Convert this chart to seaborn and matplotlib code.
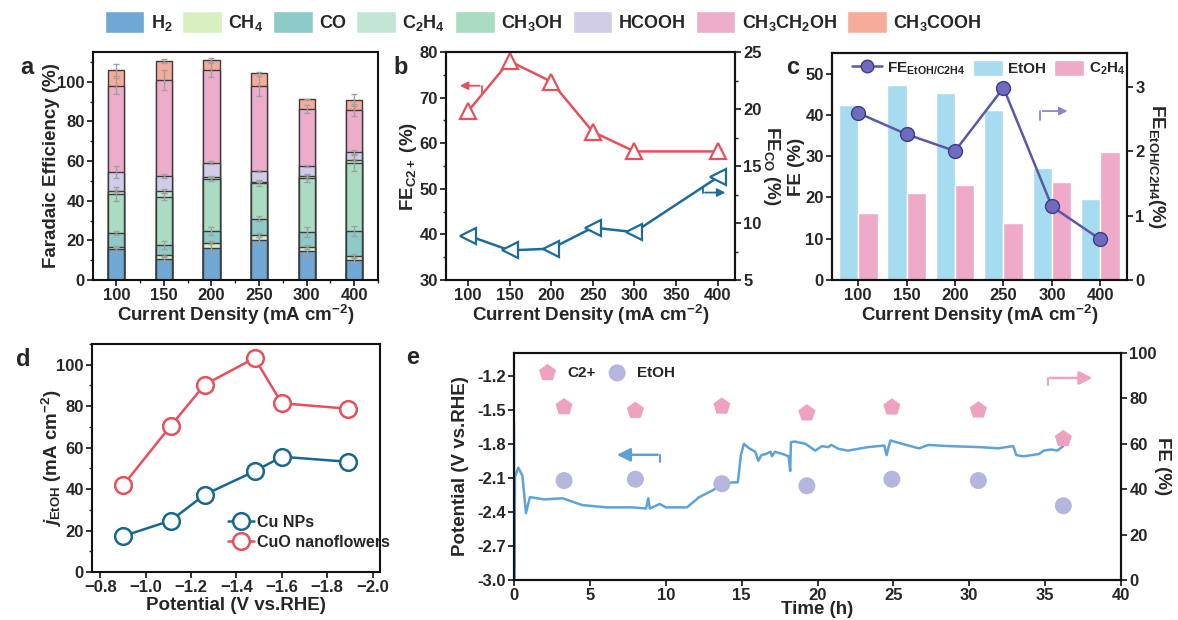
import matplotlib
matplotlib.use('Agg')
import matplotlib.pyplot as plt
import seaborn as sns
import numpy as np
import pandas as pd
from matplotlib import font_manager as fm
from matplotlib.patches import Patch
from matplotlib.lines import Line2D
from matplotlib.ticker import MultipleLocator, FormatStrFormatter, FuncFormatter

# ---------------- data ----------------
current_cats = ['100', '150', '200', '250', '300', '400']
current_num = [100, 150, 200, 250, 300, 400]

# panel a (stack order bottom -> top as drawn)
fe_h2 = [15.5, 10.6, 16.1, 20.1, 14.4, 10.3]
fe_ch4 = [1.0, 1.8, 2.5, 2.7, 2.2, 1.7]
fe_co = [7.0, 5.4, 6.2, 8.1, 7.4, 12.5]
fe_ch3oh = [20.0, 24.3, 26.2, 17.9, 27.5, 34.4]
fe_c2h4 = [1.3, 2.7, 1.2, 0.7, 1.0, 1.4]
fe_hcooh = [9.5, 7.6, 6.9, 5.7, 5.1, 4.4]
fe_etoh = [43.6, 48.5, 46.8, 42.6, 28.6, 21.0]
fe_acooh = [8.1, 9.8, 5.1, 6.8, 5.0, 5.0]
err_h2 = [1.5, 1.0, 3.5, 1.5, 3.0, 1.5]
err_ch4 = [0.3, 0.5, 0.5, 1.0, 1.0, 1.0]
err_co = [1.0, 2.0, 2.0, 1.2, 2.5, 2.5]
err_ch3oh = [3.5, 2.0, 1.0, 1.5, 2.0, 4.0]
err_c2h4 = [0.5, 1.0, 0.5, 0.3, 0.5, 0.5]
err_hcooh = [3.0, 1.0, 0.7, 0.5, 0.5, 1.0]
err_etoh = [4.0, 5.0, 3.5, 5.0, 2.0, 3.0]
err_acooh = [3.0, 1.0, 1.0, 0.5, 0.3, 3.0]

# panel b
fe_c2plus = [67.0, 78.0, 73.5, 62.5, 58.2, 58.2]
fe_co_b = [8.9, 7.6, 7.75, 9.6, 9.2, 14.0]

# panel c
fe_etoh_c = [42.3, 47.2, 45.3, 41.3, 27.1, 19.6]
fe_c2h4_c = [16.3, 21.1, 22.9, 13.9, 23.7, 31.1]
ratio_etoh_c2h4 = [2.59, 2.26, 2.00, 2.98, 1.14, 0.63]

# panel d
potential_d = [-0.90, -1.11, -1.26, -1.48, -1.60, -1.89]
j_cu_nps = [17.3, 24.8, 37.3, 48.6, 55.6, 53.2]
j_cuo_nf = [41.8, 70.5, 90.4, 103.2, 81.4, 78.8]

# panel e
time_h = [0.0, 0.01, 0.07, 0.28, 0.55, 0.79, 1.05, 2.0, 3.2, 4.5, 6.1, 7.8, 8.7,
          8.85, 8.95, 9.6, 10.0, 11.4, 12.2, 13.1, 13.6, 14.4, 14.75, 14.95, 15.15,
          15.5, 15.9, 16.1, 16.3, 16.6, 16.9, 17.0, 17.2, 17.7, 18.1, 18.2, 18.25,
          18.5, 19.2, 19.85, 20.3, 20.7, 20.9, 21.4, 22.0, 23.3, 24.4, 24.55, 24.8,
          25.3, 26.4, 26.7, 27.3, 28.6, 30.8, 31.9, 32.9, 33.1, 33.6, 34.6, 34.9,
          35.4, 35.8, 36.2]
potential_e = [-1.62, -3.0, -2.09, -2.01, -2.08, -2.41, -2.27, -2.29, -2.28, -2.34,
               -2.36, -2.36, -2.37, -2.28, -2.37, -2.33, -2.36, -2.36, -2.27, -2.21,
               -2.16, -2.14, -2.14, -1.90, -1.80, -1.84, -1.87, -1.95, -1.90, -1.89,
               -1.87, -1.91, -1.87, -1.89, -1.91, -2.04, -1.785, -1.78, -1.80, -1.86,
               -1.82, -1.83, -1.81, -1.845, -1.86, -1.83, -1.815, -1.90, -1.77, -1.79,
               -1.83, -1.84, -1.81, -1.82, -1.83, -1.84, -1.82, -1.90, -1.91, -1.89,
               -1.86, -1.85, -1.86, -1.82]
sample_time = [3.3, 8.0, 13.7, 19.3, 24.9, 30.6, 36.2]
fe_c2plus_e = [76.2, 74.6, 76.5, 73.5, 76.1, 74.8, 62.2]
fe_etoh_e = [43.8, 44.4, 42.4, 41.5, 44.4, 43.8, 32.7]

# ---------------- style ----------------
sns.set_theme(style='ticks')
avail = {f.name for f in fm.fontManager.ttflist}
FAM = 'Liberation Sans Narrow' if 'Liberation Sans Narrow' in avail else 'Liberation Sans'
plt.rcParams['font.family'] = [FAM, 'DejaVu Sans']
plt.rcParams['font.weight'] = 'bold'
plt.rcParams['axes.labelweight'] = 'bold'
plt.rcParams['mathtext.fontset'] = 'custom'
plt.rcParams['mathtext.rm'] = FAM + ':bold'
plt.rcParams['mathtext.bf'] = FAM + ':bold'
plt.rcParams['mathtext.it'] = FAM + ':italic:bold'
plt.rcParams['mathtext.default'] = 'bf'
plt.rcParams['axes.linewidth'] = 1.5
plt.rcParams['xtick.major.width'] = 1.3
plt.rcParams['ytick.major.width'] = 1.3
plt.rcParams['xtick.minor.width'] = 1.0
plt.rcParams['ytick.minor.width'] = 1.0
plt.rcParams['xtick.major.size'] = 4
plt.rcParams['ytick.major.size'] = 4
plt.rcParams['xtick.minor.size'] = 2.5
plt.rcParams['ytick.minor.size'] = 2.5
plt.rcParams['axes.edgecolor'] = '#111111'

TICK = 12
LAB = 13.5

W, H = 1178, 620
fig = plt.figure(figsize=(W / 100, H / 100), dpi=100)


def rect(l, t, r, b):
    return [l / W, (H - b) / H, (r - l) / W, (b - t) / H]


def style_ax(ax):
    ax.tick_params(labelsize=TICK, pad=2)
    for lab in ax.get_xticklabels() + ax.get_yticklabels():
        lab.set_fontweight('bold')


def place_labels(ax, xl=None, yl=None, ax2=None, yr=None):
    if xl is not None:
        ax.xaxis.label.set_va('center')
        ax.xaxis.set_label_coords(0.5, xl)
    if yl is not None:
        ax.yaxis.label.set_va('center')
        ax.yaxis.set_label_coords(yl, 0.5)
    if ax2 is not None:
        ax2.yaxis.label.set_va('center')
        ax2.yaxis.set_label_coords(yr, 0.5)


# ---------------- panel a ----------------
axa = fig.add_axes(rect(93, 52, 378, 280))
c_h2, c_ch4, c_co, c_c2h4, c_ch3oh, c_hcooh, c_etoh, c_acooh = (
    '#6fa7d5', '#d8efbf', '#8ccbc8', '#c2e5d6', '#a9dcc2', '#d1cce8', '#eeaccb', '#f6ab9b')
layers = [(fe_h2, err_h2, c_h2), (fe_ch4, err_ch4, c_ch4), (fe_co, err_co, c_co),
          (fe_ch3oh, err_ch3oh, c_ch3oh), (fe_c2h4, err_c2h4, c_c2h4),
          (fe_hcooh, err_hcooh, c_hcooh), (fe_etoh, err_etoh, c_etoh),
          (fe_acooh, err_acooh, c_acooh)]
cums = np.cumsum([np.array(v) for v, _, _ in layers], axis=0)
for (vals, err, col), cum in reversed(list(zip(layers, cums))):
    sns.barplot(x=current_cats, y=cum, color=col, saturation=1, width=0.34,
                edgecolor='#3c3c3c', linewidth=1.0, errorbar=None, ax=axa)
for (vals, err, col), cum in zip(layers, cums):
    axa.errorbar(np.arange(6), cum, yerr=err, fmt='none', ecolor='#a0a0a0',
                 elinewidth=1.0, capsize=2.5, capthick=1.0, zorder=5)
axa.set_xlim(-0.49, 5.37)
axa.set_ylim(0, 115)
axa.yaxis.set_major_locator(MultipleLocator(20))
axa.yaxis.set_minor_locator(MultipleLocator(10))
axa.set_xticks(np.arange(6))
axa.set_xticks(np.arange(6) + 0.5, minor=True)
axa.set_xlabel('Current Density (mA cm$^{-2}$)', fontsize=LAB)
axa.set_ylabel('Faradaic Efficiency (%)', fontsize=LAB)
place_labels(axa, xl=-0.152, yl=-0.147)
style_ax(axa)

# ---------------- panel b ----------------
red = '#e5505c'
blue_b = '#1b6c98'
axb = fig.add_axes(rect(446, 52, 735, 280))
sns.lineplot(x=current_num, y=fe_c2plus, ax=axb, color=red, linewidth=1.8,
             marker='^', markersize=12, markerfacecolor='white',
             markeredgecolor=red, markeredgewidth=1.6)
axb.set_xlim(73.5, 421)
axb.set_ylim(30, 80)
axb.xaxis.set_major_locator(MultipleLocator(50))
axb.yaxis.set_major_locator(MultipleLocator(10))
axb.yaxis.set_minor_locator(MultipleLocator(5))
axb.set_xlabel('Current Density (mA cm$^{-2}$)', fontsize=LAB)
axb.set_ylabel('FE$_{\\mathregular{C2+}}$ (%)', fontsize=LAB)
axb2 = axb.twinx()
sns.lineplot(x=current_num, y=fe_co_b, ax=axb2, color=blue_b, linewidth=1.8,
             marker='<', markersize=12, markerfacecolor='white',
             markeredgecolor=blue_b, markeredgewidth=1.6)
axb2.set_ylim(5, 25)
axb2.yaxis.set_major_locator(MultipleLocator(5))
axb2.yaxis.set_minor_locator(MultipleLocator(2.5))
axb2.set_ylabel('FE$_{\\mathregular{CO}}$ (%)', fontsize=LAB, rotation=270)
place_labels(axb, xl=-0.152, yl=-0.13, ax2=axb2, yr=1.125)
style_ax(axb)
style_ax(axb2)
# elbow arrows
axb.plot([116.8, 116.8], [71.0, 72.6], color=red, lw=1.3)
axb.annotate('', xy=(86.8, 72.6), xytext=(117.3, 72.6),
             arrowprops=dict(arrowstyle='-|>', color=red, lw=1.3, mutation_scale=12))
axb2.plot([382, 382], [13.2, 12.67], color=blue_b, lw=1.3)
axb2.annotate('', xy=(412.8, 12.67), xytext=(381.5, 12.67),
              arrowprops=dict(arrowstyle='-|>', color=blue_b, lw=1.3, mutation_scale=12))

# ---------------- panel c ----------------
axc = fig.add_axes(rect(832, 53, 1127, 280))
dfc = pd.DataFrame({
    'cur': current_cats * 2,
    'fe': fe_etoh_c + fe_c2h4_c,
    'prod': ['EtOH'] * 6 + ['C$_2$H$_4$'] * 6,
})
c_bl, c_pk = '#a7dcf0', '#eeaac8'
sns.barplot(data=dfc, x='cur', y='fe', hue='prod', palette=[c_bl, c_pk],
            saturation=1, width=0.8, errorbar=None, ax=axc, legend=False)
axc.set_xlim(-0.54, 5.55)
axc.set_ylim(0, 55)
axc.yaxis.set_major_locator(MultipleLocator(10))
axc.set_xlabel('Current Density (mA cm$^{-2}$)', fontsize=LAB)
axc.set_ylabel('FE (%)', fontsize=LAB)
axc2 = axc.twinx()
purple = '#5a58a8'
sns.lineplot(x=np.arange(6), y=ratio_etoh_c2h4, ax=axc2, color=purple, linewidth=1.8,
             marker='o', markersize=10, markerfacecolor='#6d6cc0',
             markeredgecolor='#3d3b85', markeredgewidth=1.0)
axc2.set_xlim(-0.54, 5.55)
axc2.set_ylim(0, 3.52)
axc2.yaxis.set_major_locator(MultipleLocator(1))
axc2.set_ylabel('FE$_{\\mathregular{EtOH/C2H4}}$(%)', fontsize=LAB, rotation=270)
place_labels(axc, xl=-0.152, yl=-0.122, ax2=axc2, yr=1.1)
style_ax(axc)
style_ax(axc2)
axc2.plot([3.76, 3.76], [2.48, 2.62], color='#8a86cc', lw=1.3)
axc2.annotate('', xy=(4.38, 2.62), xytext=(3.75, 2.62),
              arrowprops=dict(arrowstyle='-|>', color='#8a86cc', lw=1.3, mutation_scale=12))
hc = [Line2D([0], [0], color=purple, lw=1.8, marker='o', markersize=9,
             markerfacecolor='#6d6cc0', markeredgecolor='#3d3b85'),
      Patch(facecolor=c_bl), Patch(facecolor=c_pk)]
axc2.legend(hc, ['FE$_{\\mathregular{EtOH/C2H4}}$', 'EtOH', 'C$_2$H$_4$'], ncol=3,
            loc='upper left', bbox_to_anchor=(0.02, 1.03), frameon=False,
            fontsize=11, handlelength=2.0, handletextpad=0.3, columnspacing=0.5,
            handleheight=1.2)

# ---------------- panel d ----------------
axd = fig.add_axes(rect(92, 344, 380, 572))
blue_d = '#17678f'
sns.lineplot(x=potential_d, y=j_cu_nps, ax=axd, color=blue_d, linewidth=1.8,
             marker='o', markersize=12, markerfacecolor='white',
             markeredgecolor=blue_d, markeredgewidth=1.8, label='Cu NPs')
sns.lineplot(x=potential_d, y=j_cuo_nf, ax=axd, color=red, linewidth=1.8,
             marker='o', markersize=12, markerfacecolor='white',
             markeredgecolor=red, markeredgewidth=1.8, label='CuO nanoflowers')
axd.set_xlim(-0.763, -2.033)
axd.set_ylim(0, 110)
axd.xaxis.set_major_locator(MultipleLocator(0.2))
axd.xaxis.set_major_formatter(FuncFormatter(lambda v, p: f'{v:.1f}'.replace('-', '\u2212')))
axd.yaxis.set_major_locator(MultipleLocator(20))
axd.yaxis.set_minor_locator(MultipleLocator(10))
axd.set_xlabel('Potential (V vs.RHE)', fontsize=LAB)
axd.set_ylabel('$\\mathit{j}_{\\mathregular{EtOH}}$ (mA cm$^{-2}$)', fontsize=LAB)
place_labels(axd, xl=-0.145, yl=-0.14)
axd.legend(loc='lower left', bbox_to_anchor=(0.45, 0.07), frameon=False, fontsize=11.5,
           handlelength=1.6, handletextpad=0.2, labelspacing=0.3, borderaxespad=0)
style_ax(axd)

# ---------------- panel e ----------------
axe = fig.add_axes(rect(514, 353, 1121, 580))
trace = '#5ea3d8'
sns.lineplot(x=time_h, y=potential_e, ax=axe, color=trace, linewidth=1.8,
             estimator=None, sort=False)
axe.set_xlim(0, 40)
axe.set_ylim(-3.0, -1.0)
axe.set_yticks(np.round(np.arange(-3.0, -1.15, 0.3), 1))
axe.yaxis.set_major_formatter(FormatStrFormatter('%.1f'))
axe.xaxis.set_major_locator(MultipleLocator(5))
axe.set_xlabel('Time (h)', fontsize=LAB)
axe.set_ylabel('Potential (V vs.RHE)', fontsize=LAB)
axe2 = axe.twinx()
pk_e, lv_e = '#eea2bf', '#b4b6de'
sns.scatterplot(x=sample_time, y=fe_c2plus_e, ax=axe2, color=pk_e, marker='p', s=170,
                edgecolor='none', label='C2+')
sns.scatterplot(x=sample_time, y=fe_etoh_e, ax=axe2, color=lv_e, marker='o', s=150,
                edgecolor='none', label='EtOH')
axe2.set_ylim(0, 100)
axe2.set_xlim(0, 40)
axe2.yaxis.set_major_locator(MultipleLocator(20))
axe2.set_ylabel('FE (%)', fontsize=LAB, rotation=270)
place_labels(axe, xl=-0.132, yl=-0.088, ax2=axe2, yr=1.068)
axe2.legend(loc='upper left', bbox_to_anchor=(0.02, 0.97), ncol=2, frameon=False,
            fontsize=11, handletextpad=0.3, columnspacing=0.4, borderaxespad=0)
style_ax(axe)
style_ax(axe2)
axe.plot([9.6, 9.6], [-1.96, -1.897], color='#5e9fd6', lw=1.5)
axe.annotate('', xy=(6.6, -1.897), xytext=(9.65, -1.897),
             arrowprops=dict(arrowstyle='-|>', color='#5e9fd6', lw=1.8, mutation_scale=20))
axe2.plot([35.2, 35.2], [85.8, 89], color=pk_e, lw=1.5)
axe2.annotate('', xy=(38.3, 89), xytext=(35.15, 89),
              arrowprops=dict(arrowstyle='-|>', color=pk_e, lw=1.8, mutation_scale=20))

# ---------------- top legend ----------------
leg_handles = [Patch(facecolor=c) for c in
               [c_h2, c_ch4, c_co, c_c2h4, c_ch3oh, c_hcooh, c_etoh, c_acooh]]
leg_labels = ['H$_2$', 'CH$_4$', 'CO', 'C$_2$H$_4$', 'CH$_3$OH', 'HCOOH',
              'CH$_3$CH$_2$OH', 'CH$_3$COOH']
fig.legend(leg_handles, leg_labels, ncol=8, loc='center', bbox_to_anchor=(0.461, 0.965),
           frameon=False, fontsize=13, handlelength=2.2, handleheight=1.5,
           handletextpad=0.35, columnspacing=0.55)

# panel letters
for x, y, s in [(20, 68, 'a'), (393, 67, 'b'), (786, 67, 'c'), (16, 360, 'd'), (406, 357, 'e')]:
    fig.text(x / W, 1 - y / H, s, fontsize=17, fontweight='bold', ha='left', va='center',
             family=['Liberation Sans', 'DejaVu Sans'])

fig.savefig('out.png', dpi=100)
